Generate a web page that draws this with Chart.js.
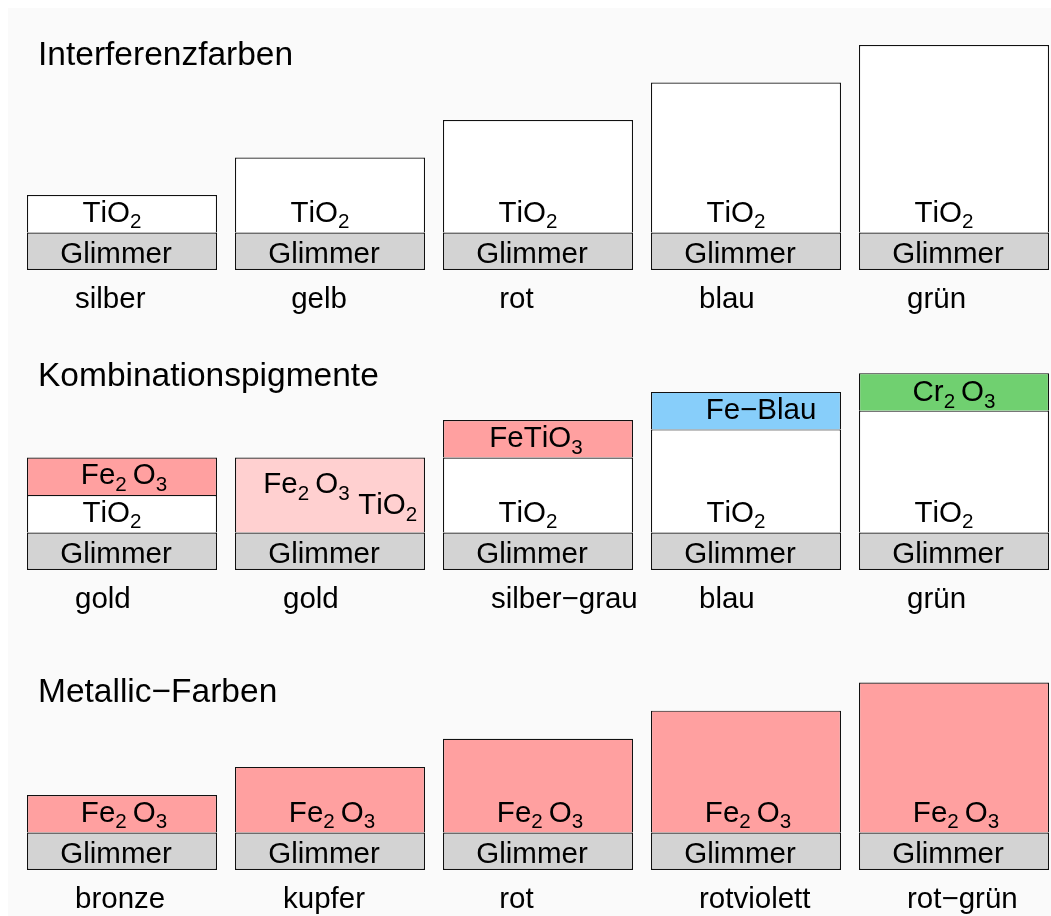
<!DOCTYPE html>
<html>
<head>
<meta charset="utf-8">
<title>Perlglanzpigmente</title>
<script src="https://cdn.jsdelivr.net/npm/chart.js@4.4.0/dist/chart.umd.min.js"></script>
<style>
  html, body { margin: 0; padding: 0; background: #ffffff; overflow: hidden; }
  #chart { display: block; }
</style>
</head>
<body>
<canvas id="chart" width="1051" height="916"></canvas>
<script>
// ============================================================
// Daten (Schichtdicken in Einheiten der Glimmerschicht)
// ============================================================

const columns = [1, 2, 3, 4, 5];

const sectionTitles = ["Interferenzfarben", "Kombinationspigmente", "Metallic−Farben"];
const sectionBase = [16, 8, 0];          // Unterkante Glimmer je Abschnitt
const titleHeight = [5.47, 4.91, 4.49];  // Grundlinie Überschrift über Basis

const colorNames = [
    ["silber", " gelb", " rot", "blau", "grün"],
    ["gold", "gold", "silber−grau", "blau", "grün"],
    ["bronze", "kupfer", " rot", "rotviolett", "rot−grün"]
];

const glimmer = [1, 1, 1, 1, 1];

// Interferenzfarben : TiO2 auf Glimmer
const interferenzTiO2 = [1, 2, 3, 4, 5];

// Kombinationspigmente
const kombiTiO2 = [1, 0, 2, 2.75, 3.25];
const kombiMisch = [0, 2, 0, 0, 0];
const kombiTop = [1, 0, 1, 1, 1];
const kombiTopStoff = ["Fe2O3", null, "FeTiO3", "FeBlau", "Cr2O3"];

// Metallic-Farben : Fe2O3 auf Glimmer
const metallicFe2O3 = [1, 1.75, 2.5, 3.25, 4];

// ============================================================
// Stil
// ============================================================

const FONT = '"Liberation Sans", Arial, Helvetica, sans-serif';
const SIZE = 29.5;
const SUB = 20.6;

const stoffe = {
    Glimmer: { text: "Glimmer",  color: "#d3d3d3", dx: -6, dy: 12 },
    TiO2:    { text: "TiO_2",    color: "#ffffff", dx: -10, dy: 8 },
    Fe2O3:   { text: "Fe_2 O_3", color: "#ffa0a0", dx: 2, dy: 8 },
    Misch:   { text: "",         color: "#ffd0d0", dx: 0, dy: 0 },
    FeTiO3:  { text: "FeTiO_3",  color: "#ffa0a0", dx: -2, dy: 8.5 },
    FeBlau:  { text: "Fe−Blau",  color: "#87cefa", dx: 15, dy: 8.5 },
    Cr2O3:   { text: "Cr_2 O_3", color: "#70d070", dx: 0, dy: 9.5 }
};

// ============================================================
// Schichten aufbauen
// ============================================================

const layers = [];

function addLayer(col, lo, thick, stoff) {
    if (thick > 0) layers.push({ x: columns[col], lo: lo, hi: lo + thick, stoff: stoff });
    return lo + thick;
}

columns.forEach((c, i) => {
    // Interferenzfarben
    let y = addLayer(i, sectionBase[0], glimmer[i], "Glimmer");
    addLayer(i, y, interferenzTiO2[i], "TiO2");

    // Kombinationspigmente
    y = addLayer(i, sectionBase[1], glimmer[i], "Glimmer");
    y = addLayer(i, y, kombiTiO2[i], "TiO2");
    y = addLayer(i, y, kombiMisch[i], "Misch");
    if (kombiTopStoff[i]) addLayer(i, y, kombiTop[i], kombiTopStoff[i]);

    // Metallic
    y = addLayer(i, sectionBase[2], glimmer[i], "Glimmer");
    addLayer(i, y, metallicFe2O3[i], "Fe2O3");
});

const datasets = Object.keys(stoffe).map(k => ({
    label: k,
    data: layers.filter(l => l.stoff === k).map(l => ({ x: l.x, y: [l.lo, l.hi] })),
    backgroundColor: stoffe[k].color,
    borderColor: "#111111",
    borderWidth: 1.2,
    borderSkipped: k === "Glimmer" ? false : "bottom",
    barThickness: 190,
    grouped: false,
    inflateAmount: 0
}));

// ============================================================
// Text mit Indizes (TiO_2 -> TiO2)
// ============================================================

function formulaParts(text) {
    const parts = [];
    for (let i = 0; i < text.length; i++) {
        const ch = text[i];
        if (ch === "_") {
            parts.push({ t: text[i + 1], sub: true });
            i++;
        } else if (ch === " ") {
            parts.push({ t: " ", gap: 6 });
        } else {
            parts.push({ t: ch, sub: false });
        }
    }
    return parts;
}

function drawFormula(ctx, text, x, baseline, align) {
    const parts = formulaParts(text);
    let w = 0;
    for (let p of parts) {
        if (p.gap) { p.w = p.gap; }
        else {
            ctx.font = (p.sub ? SUB : SIZE) + "px " + FONT;
            p.w = ctx.measureText(p.t).width;
        }
        w += p.w;
    }
    let cx = align === "left" ? x : x - w / 2;
    ctx.textAlign = "left";
    ctx.textBaseline = "alphabetic";
    for (let p of parts) {
        if (!p.gap) {
            ctx.font = (p.sub ? SUB : SIZE) + "px " + FONT;
            ctx.fillText(p.t, cx, p.sub ? baseline + 6.5 : baseline);
        }
        cx += p.w;
    }
}

// ============================================================
// Plugins : Hintergrund + Beschriftungen
// ============================================================

const panelBackground = {
    id: "panelBackground",
    beforeDraw(chart) {
        const ctx = chart.ctx;
        ctx.save();
        ctx.fillStyle = "#ffffff";
        ctx.fillRect(0, 0, chart.width, chart.height);
        ctx.fillStyle = "#fafafa";
        ctx.fillRect(8, 8, chart.width - 8, chart.height - 8);
        ctx.restore();
    }
};

const labelPlugin = {
    id: "labelPlugin",
    afterDatasetsDraw(chart) {
        const ctx = chart.ctx;
        const xs = chart.scales.x;
        const ys = chart.scales.y;
        ctx.save();
        ctx.fillStyle = "#000000";

        // Schichtnamen
        for (let l of layers) {
            const st = stoffe[l.stoff];
            const cx = xs.getPixelForValue(l.x);
            if (l.stoff === "Misch") {
                const mid = ys.getPixelForValue((l.lo + l.hi) / 2);
                drawFormula(ctx, "Fe_2 O_3", cx - 66.7, mid - 1.7, "left");
                drawFormula(ctx, "TiO_2", cx + 28.3, mid + 19, "left");
                continue;
            }
            const cy = ys.getPixelForValue(l.lo + 0.5);
            drawFormula(ctx, st.text, cx + st.dx, cy + st.dy, "center");
        }

        // Farbbezeichnungen unter den Pigmenten
        ctx.font = SIZE + "px " + FONT;
        ctx.textAlign = "left";
        ctx.textBaseline = "alphabetic";
        colorNames.forEach((row, s) => {
            row.forEach((name, i) => {
                const x = xs.getPixelForValue(columns[i]) - 47;
                const y = ys.getPixelForValue(sectionBase[s] - 1);
                ctx.fillText(name, x, y);
            });
        });

        // Überschriften
        ctx.font = "33.5px " + FONT;
        sectionTitles.forEach((t, s) => {
            ctx.fillText(t, 38, ys.getPixelForValue(sectionBase[s] + titleHeight[s]));
        });

        ctx.restore();
    }
};

// ============================================================
// Chart
// ============================================================

// Achsen : 208 px pro Spalte, 37.5 px pro Schichteinheit
const xMin = 1 - 122 / 208;
const xMax = xMin + 1051 / 208;
const yMax = 870 / 37.5;
const yMin = -(916 - 870) / 37.5;

const ctx = document.getElementById("chart").getContext("2d");

new Chart(ctx, {
    type: "bar",
    data: { datasets: datasets },
    options: {
        responsive: false,
        animation: false,
        events: [],
        layout: { padding: 0 },
        plugins: {
            legend: { display: false },
            tooltip: { enabled: false },
            title: { display: false }
        },
        scales: {
            x: { type: "linear", min: xMin, max: xMax, offset: false, display: false },
            y: { type: "linear", min: yMin, max: yMax, display: false }
        }
    },
    plugins: [panelBackground, labelPlugin]
});
</script>
</body>
</html>
